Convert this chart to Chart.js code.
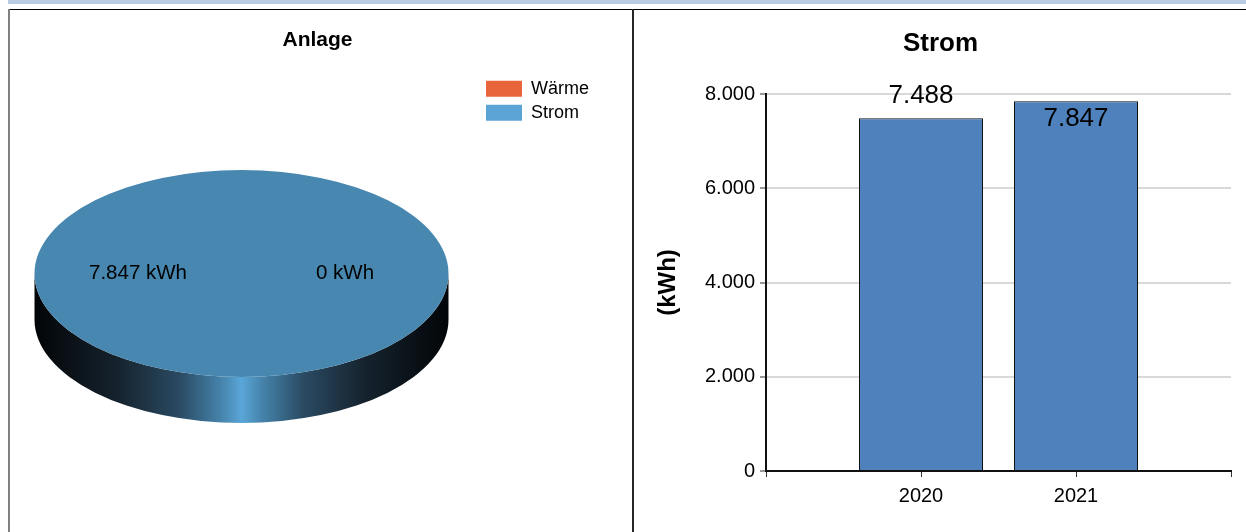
<!DOCTYPE html>
<html>
<head>
<meta charset="utf-8">
<script src="https://cdn.jsdelivr.net/npm/chart.js"></script>
<style>
  body { margin: 0; background: #fff; width: 1246px; height: 532px; overflow: hidden; position: relative; }
  .strip { position: absolute; left: 8px; top: 0; width: 1238px; height: 4px; background: #b8cce4; }
  .topline { position: absolute; left: 8px; top: 9px; width: 1238px; height: 1px; background: #000; }
  .leftline { position: absolute; left: 8px; top: 9px; width: 2px; height: 523px; background: #808080; }
  .divider { position: absolute; left: 632px; top: 9px; width: 2px; height: 523px; background: #262626; }
  #boxPie { position: absolute; left: 3px; top: 10px; width: 629px; height: 522px; }
  #boxBar { position: absolute; left: 635px; top: 10px; width: 611px; height: 522px; }
</style>
</head>
<body>
<div class="strip"></div>
<div class="topline"></div>
<div class="leftline"></div>
<div class="divider"></div>
<div id="boxPie"><canvas id="pieChart"></canvas></div>
<div id="boxBar"><canvas id="barChart"></canvas></div>
<script>
const pieLabels = ['Wärme', 'Strom'];
const pieValues = [0, 7847];
const pieColors = ['#e8643a', '#4787b0'];
const legendColors = ['#e8643a', '#5aa5d6'];

const years = ['', '2020', '2021', ''];
const stromValues = [null, 7488, 7847, null];

Chart.defaults.font.family = "'Liberation Sans', Arial, sans-serif";
Chart.defaults.color = '#000';

function fmt(v) {
  return String(Math.round(v)).replace(/\B(?=(\d{3})+(?!\d))/g, '.');
}

// title centred on the whole panel, not just the area left of the padding
const wideTitle = {
  id: 'wideTitle',
  afterLayout(chart) {
    const t = chart.titleBlock;
    t.left = 0;
    t.right = chart.width;
    t.width = chart.width;
  }
};

// flat pie squashed into an ellipse with a shaded rim
const tilt = 0.5;
const depth = 46;
const rimStops = [[0, '#020507'], [0.2, '#15222d'], [0.35, '#2a4a62'], [0.45, '#4583ab'], [0.5, '#5aa6d8'],
                  [0.55, '#4583ab'], [0.65, '#2a4a62'], [0.8, '#15222d'], [1, '#020507']];

const pie3d = {
  id: 'pie3d',
  beforeDatasetsDraw(chart) {
    const arc = chart.getDatasetMeta(0).data[1];
    const x = arc.x, y = arc.y, r = arc.outerRadius;
    const ctx = chart.ctx;
    ctx.save();
    ctx.translate(x, y);
    ctx.scale(1, tilt);
    ctx.translate(-x, -y);
    const d = depth / tilt;
    const g = ctx.createLinearGradient(x - r, 0, x + r, 0);
    rimStops.forEach(s => g.addColorStop(s[0], s[1]));
    ctx.beginPath();
    ctx.moveTo(x + r, y);
    ctx.arc(x, y + d, r, 0, Math.PI);
    ctx.lineTo(x - r, y);
    ctx.arc(x, y, r, Math.PI, 0, true);
    ctx.closePath();
    ctx.fillStyle = g;
    ctx.fill();
  },
  afterDatasetsDraw(chart) {
    const ctx = chart.ctx;
    ctx.restore();
    const meta = chart.getDatasetMeta(0);
    ctx.save();
    ctx.font = "20.5px 'Liberation Sans', Arial";
    ctx.fillStyle = '#000';
    ctx.textAlign = 'center';
    ctx.textBaseline = 'middle';
    meta.data.forEach((a, i) => {
      const mid = (a.startAngle + a.endAngle) / 2;
      const lx = a.x + Math.cos(mid) * a.outerRadius * 0.5;
      const ly = a.y + Math.sin(mid) * a.outerRadius * 0.5 * tilt;
      ctx.fillText(fmt(pieValues[i]) + ' kWh', lx, ly);
    });
    ctx.restore();
  }
};

new Chart(document.getElementById('pieChart'), {
  type: 'pie',
  data: {
    labels: pieLabels,
    datasets: [{ data: pieValues, backgroundColor: pieColors, borderWidth: 0, hoverOffset: 0 }]
  },
  options: {
    responsive: true,
    maintainAspectRatio: false,
    animation: false,
    rotation: 90,
    layout: { padding: { top: 18, right: 33, bottom: 51.5, left: 0 } },
    plugins: {
      title: {
        display: true,
        text: 'Anlage',
        color: '#000',
        font: { size: 21, weight: 'bold' },
        padding: { top: 0, bottom: 13.3 }
      },
      legend: {
        position: 'right',
        align: 'start',
        title: { display: true, text: ' ', padding: { top: 0, bottom: 41 }, font: { size: 4 } },
        labels: {
          boxWidth: 36,
          boxHeight: 16,
          padding: 6,
          color: '#000',
          font: { size: 18 },
          generateLabels: () => pieLabels.map((l, i) => ({
            text: l, fillStyle: legendColors[i], strokeStyle: legendColors[i],
            lineWidth: 0, hidden: false, index: i, fontColor: '#000'
          }))
        }
      },
      tooltip: { enabled: false }
    }
  },
  plugins: [pie3d, wideTitle]
});

const barValues = {
  id: 'barValues',
  afterDatasetsDraw(chart) {
    const ctx = chart.ctx;
    const top = chart.chartArea.top;
    ctx.save();
    ctx.font = "26px 'Liberation Sans', Arial";
    ctx.fillStyle = '#000';
    ctx.textAlign = 'center';
    ctx.textBaseline = 'middle';
    chart.getDatasetMeta(0).data.forEach((bar, i) => {
      if (stromValues[i] == null) return;
      let ty = bar.y - 22;
      if (ty < top - 8) ty = bar.y + 18;
      ctx.fillText(fmt(stromValues[i]), bar.x, ty);
    });
    ctx.restore();
  }
};

new Chart(document.getElementById('barChart'), {
  type: 'bar',
  data: {
    labels: years,
    datasets: [{
      label: 'Strom',
      data: stromValues,
      backgroundColor: '#4f81bd',
      borderColor: '#111',
      borderWidth: 1,
      barPercentage: 0.8,
      categoryPercentage: 1
    }]
  },
  options: {
    responsive: true,
    maintainAspectRatio: false,
    animation: false,
    layout: { padding: { top: 18, right: 15, bottom: 0, left: 0 } },
    plugins: {
      title: {
        display: true,
        text: 'Strom',
        color: '#000',
        font: { size: 26, weight: 'bold' },
        padding: { top: 0, bottom: 34.8 }
      },
      legend: { display: false },
      tooltip: { enabled: false }
    },
    scales: {
      x: {
        offset: false,
        grid: { offset: false, drawOnChartArea: false, tickLength: 6, tickColor: '#333', tickWidth: 1 },
        border: { color: '#111', width: 2 },
        ticks: { color: '#000', font: { size: 20 }, padding: 7, autoSkip: false, maxRotation: 0 },
        afterFit(scale) { scale.height = 61; }
      },
      y: {
        min: 0,
        max: 8000,
        grid: { color: '#d9d9d9', lineWidth: 2, tickLength: 6, tickColor: '#333', tickWidth: 1 },
        border: { color: '#111', width: 2 },
        ticks: { stepSize: 2000, color: '#000', font: { size: 20 }, padding: 5, callback: v => fmt(v) },
        title: {
          display: true,
          text: '(kWh)',
          color: '#000',
          font: { size: 24, weight: 'bold' },
          padding: { top: 18.6, bottom: 0 }
        },
        afterFit(scale) { scale.width = 131; }
      }
    }
  },
  plugins: [barValues, wideTitle]
});
</script>
</body>
</html>
